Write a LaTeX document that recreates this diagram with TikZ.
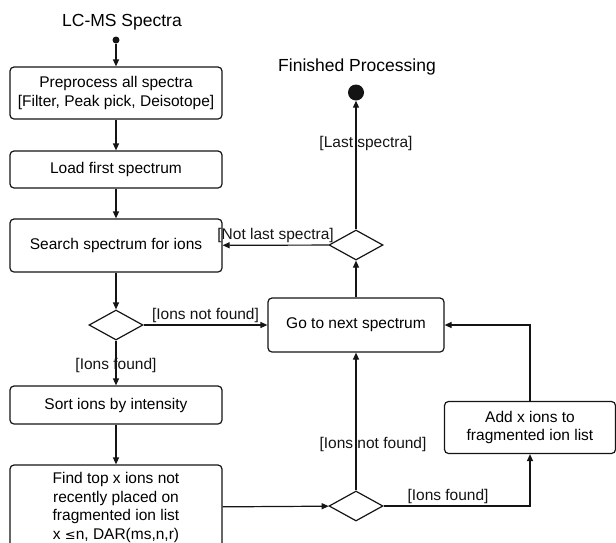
\documentclass[tikz,border=0pt]{standalone}
\usepackage{fontspec}
\setmainfont{Liberation Sans}
\usepackage{tikz}
\usetikzlibrary{positioning,arrows.meta,calc,shapes.geometric}
\definecolor{flowline}{RGB}{20,20,20}
\tikzset{
  action/.style={draw=flowline, line width=1.2pt, rounded corners=4pt, align=center,
                 font=\fontsize{15.5}{18.5}\selectfont, inner sep=2pt},
  choice/.style={diamond, draw=flowline, line width=1.2pt, aspect=1.8, inner sep=0pt,
                 minimum width=54pt, minimum height=30pt},
  startdot/.style={circle, fill=flowline, inner sep=0pt, minimum size=7pt},
  enddot/.style={circle, fill=flowline, inner sep=0pt, minimum size=16pt},
  ttl/.style={font=\fontsize{17.5}{20}\selectfont},
  grd/.style={font=\fontsize{15.5}{18}\selectfont, inner sep=1.5pt},
  flow/.style={-{Triangle[length=7pt,width=6pt]}, line width=1.2pt, flowline}
}
\begin{document}
\begin{tikzpicture}[x=1pt,y=-1pt]
\useasboundingbox (0,0) rectangle (616,542);
\node[ttl] (lcms) at (122,22) {LC-MS Spectra};
\node[startdot] (start) at (116,40) {};
\node[action, minimum width=212pt, minimum height=52pt] (pre) at (116,93)
  {Preprocess all spectra\\{}[Filter, Peak pick, Deisotope]};
\node[action, minimum width=212pt, minimum height=37pt] (load) at (116,169.5) {Load first spectrum};
\node[action, minimum width=212pt, minimum height=53pt] (search) at (116,245.5) {Search spectrum for ions};
\node[choice] (found) at (116,325) {};
\node[action, minimum width=212pt, minimum height=38pt] (sort) at (116,405) {Sort ions by intensity};
\node[action, minimum width=212pt, minimum height=85pt] (top) at (116,507.5)
  {Find top x ions not\\recently placed on\\fragmented ion list\\x {\fontspec{DejaVu Sans}\fontsize{13}{18}\selectfont ≤}n, DAR(ms,n,r)};
\node[action, minimum width=176pt, minimum height=54pt] (next) at (356,325) {Go to next spectrum};
\node[choice] (last) at (356,245) {};
\node[enddot] (fin) at (356,92.5) {};
\node[ttl] (finlbl) at (357,67) {Finished Processing};
\node[choice] (added) at (356,506) {};
\node[action, minimum width=171pt, minimum height=52pt] (add) at (530,427.5)
  {Add x ions to\\fragmented ion list};
\draw[flow] (start) -- (pre);
\draw[flow] (pre) -- (load);
\draw[flow] (load) -- (search);
\draw[flow] (search) -- (found);
\draw[flow] (found) -- node[grd, pos=0.55] {[Ions found]} (sort);
\draw[flow] (found) -- node[grd, above] {[Ions not found]} (next);
\draw[flow] (sort) -- (top);
\draw[flow] (top) -- (added);
\draw[flow] (added) -- node[grd, pos=0.33, xshift=17pt] {[Ions not found]} (next);
\draw[flow] (added) -| node[grd, above, pos=0.22] {[Ions found]} (add);
\draw[flow] (add) |- (next);
\draw[flow] (next) -- (last);
\draw[flow] (last) -- node[grd, pos=0.67, xshift=10pt] {[Last spectra]} (fin);
\draw[flow] (last) -- node[grd, above] {[Not last spectra]} (search);
\end{tikzpicture}
\end{document}
